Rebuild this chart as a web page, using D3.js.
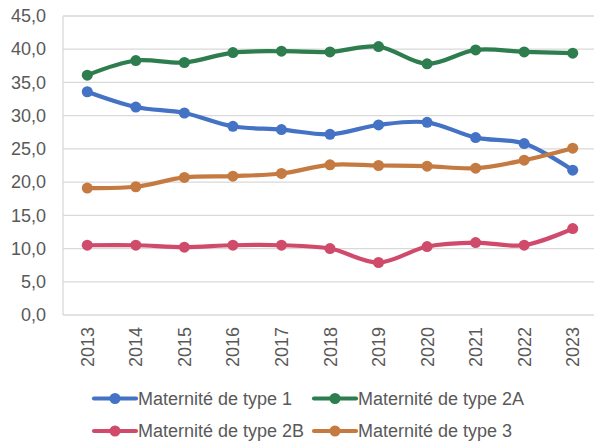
<!DOCTYPE html>
<html>
<head>
<meta charset="utf-8">
<script src="https://cdn.jsdelivr.net/npm/d3@7"></script>
<style>
  body { margin: 0; background: #fff; }
  text { font-family: "Liberation Sans", Arial, sans-serif; fill: #595959; }
</style>
</head>
<body>
<svg id="chart" width="594" height="444"></svg>
<script>
// years on the x axis
var years = ["2013","2014","2015","2016","2017","2018","2019","2020","2021","2022","2023"];
var yTicks = [0, 5, 10, 15, 20, 25, 30, 35, 40, 45];

// one array per maternity type
var type1  = [33.6, 31.3, 30.4, 28.4, 27.9, 27.2, 28.6, 29.0, 26.7, 25.8, 21.8];
var type2A = [36.1, 38.3, 38.0, 39.5, 39.7, 39.6, 40.4, 37.8, 39.9, 39.6, 39.4];
var type2B = [10.5, 10.5, 10.2, 10.5, 10.5, 10.0, 7.9, 10.3, 10.9, 10.5, 13.0];
var type3  = [19.1, 19.3, 20.7, 20.9, 21.3, 22.6, 22.5, 22.4, 22.1, 23.3, 25.1];

var series = [
  {name: "Maternité de type 1",  values: type1,  color: "#4472C4"},
  {name: "Maternité de type 2A", values: type2A, color: "#2E7D4F"},
  {name: "Maternité de type 2B", values: type2B, color: "#CF4A6B"},
  {name: "Maternité de type 3",  values: type3,  color: "#C47A41"}
];

var svg = d3.select("#chart");
var fontSize = "18px";
// plot area (note: "top" is reserved on window, so use pTop etc.)
var pLeft = 63, pRight = 597, pTop = 16, pBottom = 315;

var x = d3.scaleBand().domain(years).range([pLeft, pRight]);
var y = d3.scaleLinear().domain([0, 45]).range([pBottom, pTop]);

// grid lines
svg.append("g")
  .selectAll("line")
  .data(yTicks.filter(function(d) { return d > 0; }))
  .enter().append("line")
  .attr("x1", pLeft).attr("x2", pRight)
  .attr("y1", function(d) { return y(d); })
  .attr("y2", function(d) { return y(d); })
  .style("stroke", "#d9d9d9")
  .style("stroke-width", 1.3);

// axis lines
svg.append("line")
  .attr("x1", pLeft).attr("x2", pRight).attr("y1", pBottom).attr("y2", pBottom)
  .style("stroke", "#d9d9d9").style("stroke-width", 1.3);
svg.append("line")
  .attr("x1", pLeft).attr("x2", pLeft).attr("y1", pTop).attr("y2", pBottom)
  .style("stroke", "#d9d9d9").style("stroke-width", 1.3);

// y labels
var yAxis = d3.axisLeft(y).tickValues(yTicks)
  .tickFormat(function(d) { return d3.format(".1f")(d).replace(".", ","); })
  .tickSize(0).tickPadding(17);
var ya = svg.append("g").attr("transform", "translate(" + pLeft + ",0)").call(yAxis);
ya.select(".domain").remove();
ya.selectAll("text").style("font-size", fontSize).style("fill", "#595959")
  .style("font-family", '"Liberation Sans", Arial, sans-serif');

// x labels, rotated
svg.append("g")
  .selectAll("text")
  .data(years)
  .enter().append("text")
  .attr("transform", function(d) {
    return "translate(" + (x(d) + x.bandwidth() / 2 + 6.5) + "," + 327 + ") rotate(-90)";
  })
  .attr("text-anchor", "end")
  .style("font-size", fontSize)
  .text(function(d) { return d; });

var line = d3.line()
  .x(function(d, i) { return x(years[i]) + x.bandwidth() / 2; })
  .y(function(d) { return y(d); })
  .curve(d3.curveCatmullRom.alpha(0.5));

var g = svg.append("g");
series.forEach(function(s) {
  g.append("path")
    .attr("d", line(s.values))
    .style("fill", "none")
    .style("stroke", s.color)
    .style("stroke-width", 4.2)
    .style("stroke-linejoin", "round")
    .style("stroke-linecap", "round");
  g.selectAll(null)
    .data(s.values)
    .enter().append("circle")
    .attr("cx", function(d, i) { return x(years[i]) + x.bandwidth() / 2; })
    .attr("cy", function(d) { return y(d); })
    .attr("r", 5.5)
    .style("fill", s.color);
});

// legend, 2 columns
var legX = [94, 314], legY = [398.5, 431];
series.forEach(function(s, i) {
  var lx = legX[i % 2], ly = legY[Math.floor(i / 2)];
  var item = svg.append("g").attr("transform", "translate(" + lx + "," + ly + ")");
  item.append("line").attr("x1", 0).attr("x2", 42).attr("y1", 0).attr("y2", 0)
    .style("stroke", s.color).style("stroke-width", 4.2).style("stroke-linecap", "round");
  item.append("circle").attr("cx", 21).attr("cy", 0).attr("r", 5.5).style("fill", s.color);
  item.append("text").attr("x", 44).attr("y", 0).attr("dy", "0.35em")
    .style("font-size", fontSize).text(s.name);
});
</script>
</body>
</html>
